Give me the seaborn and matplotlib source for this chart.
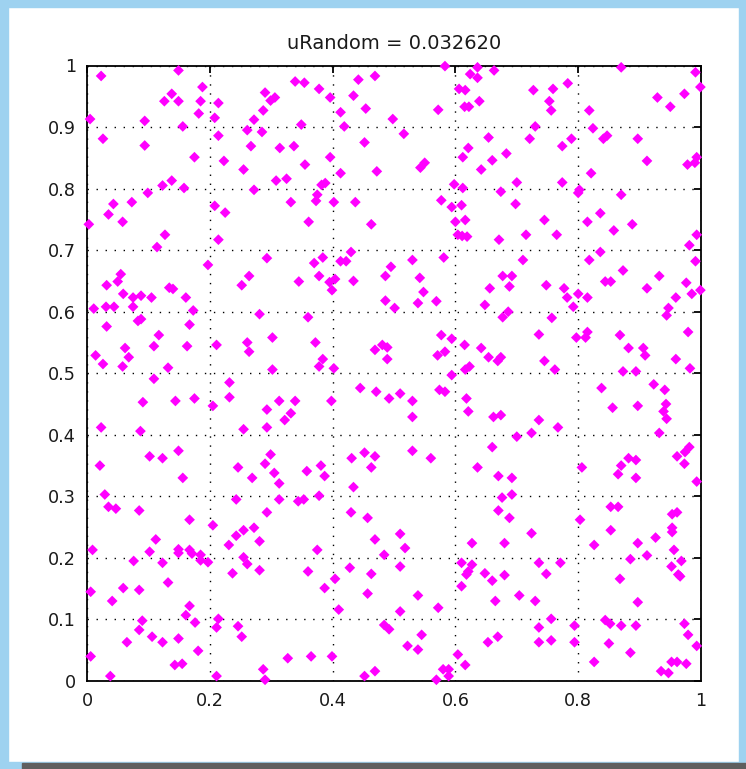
import matplotlib
matplotlib.use("Agg")
import matplotlib.pyplot as plt
from matplotlib.patches import Rectangle
import seaborn as sns
import pandas as pd

title_text = "uRandom = 0.032620"
x_ticks = [0, 0.2, 0.4, 0.6, 0.8, 1]
x_tick_labels = ["0", "0.2", "0.4", "0.6", "0.8", "1"]
y_ticks = [0, 0.1, 0.2, 0.3, 0.4, 0.5, 0.6, 0.7, 0.8, 0.9, 1]
y_tick_labels = ["0", "0.1", "0.2", "0.3", "0.4", "0.5", "0.6", "0.7", "0.8", "0.9", "1"]

# points, grouped by region (x, y)
region_top_left = [(0.023,0.983),(0.149,0.992),(0.188,0.965),(0.138,0.954),(0.126,0.942),(0.149,0.942),(0.185,0.942),(0.214,0.939),(0.290,0.956),(0.299,0.943),(0.306,0.948),(0.287,0.927),(0.182,0.922),(0.208,0.915),(0.272,0.912),(0.005,0.913),(0.094,0.910),(0.156,0.901),(0.261,0.895),(0.285,0.892),(0.026,0.881),(0.214,0.886),(0.094,0.870),(0.267,0.869),(0.314,0.866),(0.175,0.851),(0.223,0.845),(0.255,0.831),(0.138,0.813),(0.123,0.805),(0.158,0.801),(0.308,0.813),(0.325,0.816),(0.272,0.798),(0.099,0.793),(0.043,0.775),(0.073,0.778),(0.208,0.772),(0.225,0.761)]
region_top_mid = [(0.339,0.974),(0.354,0.972),(0.378,0.962),(0.396,0.948),(0.442,0.977),(0.469,0.983),(0.434,0.951),(0.413,0.924),(0.454,0.930),(0.498,0.913),(0.349,0.904),(0.419,0.901),(0.516,0.889),(0.337,0.869),(0.452,0.875),(0.396,0.851),(0.355,0.839),(0.413,0.825),(0.472,0.828),(0.543,0.834),(0.550,0.842),(0.572,0.928),(0.583,0.999),(0.606,0.962),(0.616,0.960),(0.624,0.986),(0.636,0.997),(0.636,0.980),(0.663,0.992),(0.615,0.933),(0.622,0.933),(0.639,0.942),(0.654,0.883),(0.621,0.866),(0.612,0.851),(0.660,0.846),(0.642,0.831),(0.598,0.807),(0.612,0.801),(0.388,0.809),(0.382,0.806),(0.375,0.790),(0.373,0.780),(0.332,0.778),(0.402,0.778),(0.437,0.778),(0.577,0.781),(0.594,0.770),(0.610,0.773)]
region_top_right = [(0.870,0.997),(0.991,0.989),(0.999,0.965),(0.727,0.960),(0.759,0.962),(0.783,0.971),(0.753,0.942),(0.756,0.927),(0.818,0.927),(0.929,0.948),(0.950,0.933),(0.973,0.954),(0.730,0.901),(0.824,0.898),(0.721,0.881),(0.789,0.881),(0.774,0.869),(0.841,0.881),(0.847,0.886),(0.897,0.881),(0.683,0.857),(0.912,0.845),(0.978,0.839),(0.990,0.842),(0.993,0.851),(0.821,0.825),(0.700,0.810),(0.774,0.810),(0.674,0.795),(0.802,0.798),(0.800,0.793),(0.870,0.790),(0.698,0.775),(0.836,0.760)]
region_upper_left = [(0.035,0.758),(0.058,0.746),(0.003,0.742),(0.127,0.725),(0.214,0.717),(0.114,0.705),(0.293,0.687),(0.197,0.676),(0.055,0.661),(0.050,0.649),(0.032,0.643),(0.264,0.658),(0.252,0.643),(0.059,0.629),(0.075,0.623),(0.088,0.626),(0.105,0.623),(0.134,0.639),(0.140,0.637),(0.161,0.623),(0.011,0.605),(0.031,0.608),(0.044,0.608),(0.075,0.608),(0.173,0.602),(0.281,0.596),(0.083,0.585),(0.088,0.588),(0.167,0.579),(0.032,0.576),(0.117,0.562),(0.302,0.558),(0.211,0.546),(0.261,0.550),(0.264,0.535),(0.109,0.544),(0.163,0.544),(0.062,0.541),(0.068,0.526),(0.014,0.529),(0.026,0.515),(0.058,0.511),(0.132,0.509),(0.302,0.506)]
region_upper_mid = [(0.361,0.746),(0.463,0.742),(0.600,0.746),(0.616,0.749),(0.604,0.725),(0.611,0.723),(0.619,0.722),(0.430,0.697),(0.384,0.688),(0.370,0.679),(0.413,0.682),(0.422,0.682),(0.530,0.684),(0.581,0.688),(0.495,0.673),(0.486,0.658),(0.378,0.658),(0.345,0.649),(0.404,0.653),(0.395,0.648),(0.399,0.635),(0.434,0.650),(0.542,0.655),(0.548,0.632),(0.539,0.614),(0.569,0.617),(0.486,0.618),(0.501,0.606),(0.648,0.611),(0.656,0.638),(0.360,0.591),(0.577,0.562),(0.594,0.556),(0.372,0.550),(0.489,0.542),(0.481,0.546),(0.469,0.538),(0.489,0.523),(0.615,0.546),(0.642,0.541),(0.654,0.526),(0.571,0.529),(0.583,0.535),(0.384,0.523),(0.378,0.511),(0.402,0.508),(0.623,0.511),(0.616,0.506)]
region_upper_right = [(0.745,0.749),(0.815,0.746),(0.858,0.732),(0.888,0.742),(0.671,0.717),(0.715,0.725),(0.710,0.684),(0.765,0.725),(0.836,0.697),(0.818,0.684),(0.981,0.708),(0.993,0.725),(0.991,0.682),(0.677,0.658),(0.692,0.658),(0.688,0.641),(0.873,0.667),(0.844,0.649),(0.853,0.649),(0.932,0.658),(0.976,0.647),(0.985,0.629),(0.999,0.635),(0.912,0.638),(0.959,0.623),(0.947,0.606),(0.777,0.638),(0.782,0.623),(0.748,0.643),(0.800,0.629),(0.815,0.623),(0.792,0.608),(0.686,0.600),(0.677,0.591),(0.757,0.590),(0.944,0.594),(0.736,0.563),(0.815,0.567),(0.797,0.558),(0.812,0.558),(0.868,0.562),(0.979,0.567),(0.882,0.541),(0.906,0.541),(0.909,0.529),(0.674,0.526),(0.669,0.520),(0.745,0.520),(0.959,0.523),(0.762,0.506),(0.982,0.508)]
region_lower_left = [(0.109,0.491),(0.232,0.485),(0.232,0.461),(0.091,0.453),(0.144,0.455),(0.175,0.459),(0.205,0.447),(0.313,0.455),(0.293,0.441),(0.322,0.424),(0.023,0.412),(0.087,0.406),(0.255,0.409),(0.293,0.412),(0.149,0.374),(0.102,0.365),(0.123,0.362),(0.299,0.368),(0.290,0.353),(0.021,0.350),(0.246,0.347),(0.305,0.338),(0.269,0.330),(0.156,0.330),(0.313,0.321),(0.029,0.303),(0.243,0.295),(0.313,0.295),(0.035,0.283),(0.047,0.280),(0.085,0.277),(0.293,0.274),(0.167,0.262),(0.205,0.253)]
region_lower_mid = [(0.594,0.497),(0.445,0.476),(0.471,0.470),(0.510,0.467),(0.492,0.459),(0.530,0.455),(0.574,0.473),(0.583,0.470),(0.618,0.459),(0.621,0.438),(0.339,0.455),(0.332,0.435),(0.398,0.455),(0.530,0.429),(0.662,0.429),(0.530,0.374),(0.452,0.371),(0.431,0.362),(0.469,0.365),(0.463,0.347),(0.560,0.362),(0.660,0.380),(0.636,0.347),(0.381,0.350),(0.358,0.341),(0.387,0.333),(0.434,0.315),(0.378,0.301),(0.344,0.292),(0.353,0.295),(0.430,0.274),(0.457,0.265)]
region_lower_right = [(0.873,0.503),(0.894,0.503),(0.838,0.476),(0.923,0.482),(0.941,0.473),(0.943,0.450),(0.939,0.438),(0.944,0.426),(0.856,0.444),(0.897,0.447),(0.674,0.432),(0.736,0.424),(0.767,0.412),(0.724,0.403),(0.700,0.397),(0.932,0.403),(0.981,0.380),(0.974,0.372),(0.961,0.365),(0.973,0.353),(0.882,0.362),(0.894,0.359),(0.870,0.350),(0.865,0.336),(0.894,0.330),(0.806,0.347),(0.993,0.324),(0.670,0.333),(0.692,0.330),(0.676,0.298),(0.692,0.303),(0.670,0.277),(0.688,0.265),(0.853,0.283),(0.865,0.283),(0.953,0.271),(0.961,0.274),(0.803,0.262)]
region_bottom_left = [(0.272,0.249),(0.255,0.245),(0.243,0.236),(0.231,0.221),(0.281,0.227),(0.112,0.230),(0.009,0.213),(0.102,0.210),(0.149,0.214),(0.149,0.208),(0.167,0.213),(0.171,0.207),(0.185,0.205),(0.185,0.196),(0.197,0.193),(0.076,0.195),(0.123,0.192),(0.255,0.201),(0.261,0.190),(0.281,0.180),(0.237,0.175),(0.132,0.160),(0.059,0.151),(0.085,0.148),(0.006,0.145),(0.041,0.130),(0.167,0.122),(0.161,0.107),(0.176,0.095),(0.090,0.098),(0.085,0.083),(0.214,0.101),(0.211,0.087),(0.246,0.089),(0.252,0.072),(0.106,0.072),(0.065,0.063),(0.123,0.063),(0.149,0.069),(0.181,0.049),(0.006,0.040),(0.143,0.026),(0.155,0.028),(0.038,0.008),(0.211,0.008),(0.287,0.019),(0.290,0.002),(0.327,0.037)]
region_bottom_mid = [(0.469,0.230),(0.510,0.239),(0.518,0.216),(0.484,0.205),(0.375,0.213),(0.510,0.186),(0.360,0.178),(0.428,0.184),(0.463,0.174),(0.404,0.166),(0.387,0.151),(0.457,0.142),(0.539,0.139),(0.572,0.119),(0.410,0.116),(0.510,0.113),(0.484,0.091),(0.492,0.084),(0.545,0.075),(0.522,0.057),(0.539,0.051),(0.365,0.040),(0.399,0.040),(0.452,0.008),(0.469,0.016),(0.569,0.002),(0.580,0.019),(0.589,0.019),(0.589,0.008),(0.604,0.043),(0.616,0.026),(0.627,0.224),(0.610,0.192),(0.627,0.189),(0.618,0.173),(0.621,0.178),(0.610,0.154),(0.648,0.175),(0.660,0.163),(0.665,0.130),(0.653,0.063)]
region_bottom_right = [(0.953,0.249),(0.953,0.242),(0.853,0.245),(0.724,0.240),(0.680,0.224),(0.826,0.221),(0.897,0.224),(0.926,0.233),(0.956,0.213),(0.912,0.204),(0.885,0.198),(0.968,0.195),(0.952,0.186),(0.963,0.173),(0.966,0.170),(0.736,0.192),(0.771,0.192),(0.748,0.174),(0.680,0.172),(0.868,0.166),(0.704,0.139),(0.730,0.130),(0.897,0.128),(0.756,0.101),(0.736,0.087),(0.794,0.090),(0.844,0.099),(0.852,0.093),(0.870,0.090),(0.894,0.090),(0.973,0.093),(0.979,0.075),(0.993,0.057),(0.669,0.072),(0.736,0.063),(0.756,0.066),(0.794,0.063),(0.850,0.061),(0.885,0.046),(0.826,0.031),(0.952,0.031),(0.961,0.031),(0.976,0.028),(0.935,0.016),(0.947,0.013)]

regions = [region_top_left, region_top_mid, region_top_right,
           region_upper_left, region_upper_mid, region_upper_right,
           region_lower_left, region_lower_mid, region_lower_right,
           region_bottom_left, region_bottom_mid, region_bottom_right]
pts = [p for r in regions for p in r]
df = pd.DataFrame(pts, columns=["x", "y"])

sns.set_theme(style="white")
plt.rcParams["font.family"] = ["DejaVu Sans"]

W, H = 746, 769
fig = plt.figure(figsize=(W / 100, H / 100), dpi=100)
fig.patch.set_facecolor("white")

# window frame decoration
frame_blue = "#9ed2f0"
fig.patches.append(Rectangle((0, 0), 8 / W, 1, transform=fig.transFigure, color=frame_blue, zorder=-5))
fig.patches.append(Rectangle((0, 1 - 7 / H), 1, 7 / H, transform=fig.transFigure, color=frame_blue, zorder=-5))
fig.patches.append(Rectangle((1 - 7 / W, 0), 7 / W, 1, transform=fig.transFigure, color=frame_blue, zorder=-5))
fig.patches.append(Rectangle((0, 0), 1, 7 / H, transform=fig.transFigure, color=frame_blue, zorder=-5))
fig.patches.append(Rectangle((22 / W, 0), 1 - 22 / W, 6 / H, transform=fig.transFigure, color="#5f5f5f", zorder=-4))

ax = fig.add_axes([87 / W, 1 - 681 / H, (701 - 87) / W, (681 - 65.5) / H])
ax.set_facecolor("white")

sns.scatterplot(data=df, x="x", y="y", ax=ax, marker="D", s=30, color="#ff00ff",
                edgecolor="none", linewidth=0, clip_on=False, zorder=3, legend=False)

ax.set_xlim(0, 1)
ax.set_ylim(0, 1)
ax.set_xticks(x_ticks)
ax.set_xticklabels(x_tick_labels)
ax.set_yticks(y_ticks)
ax.set_yticklabels(y_tick_labels)
ax.set_xlabel("")
ax.set_ylabel("")
ax.set_title(title_text, fontsize=14, pad=12, color="#1a1a1a")

ax.grid(True, color="black", linestyle=(0, (1, 5.5)), linewidth=1.0)
for s in ax.spines.values():
    s.set_visible(True)
    s.set_color("black")
    s.set_linewidth(1.3)
ax.tick_params(axis="both", direction="in", length=5, width=1.3, colors="black",
               labelsize=12.7, top=True, right=True, pad=8, labelcolor="#1a1a1a")

fig.savefig("out.png", dpi=100, facecolor=fig.get_facecolor())
